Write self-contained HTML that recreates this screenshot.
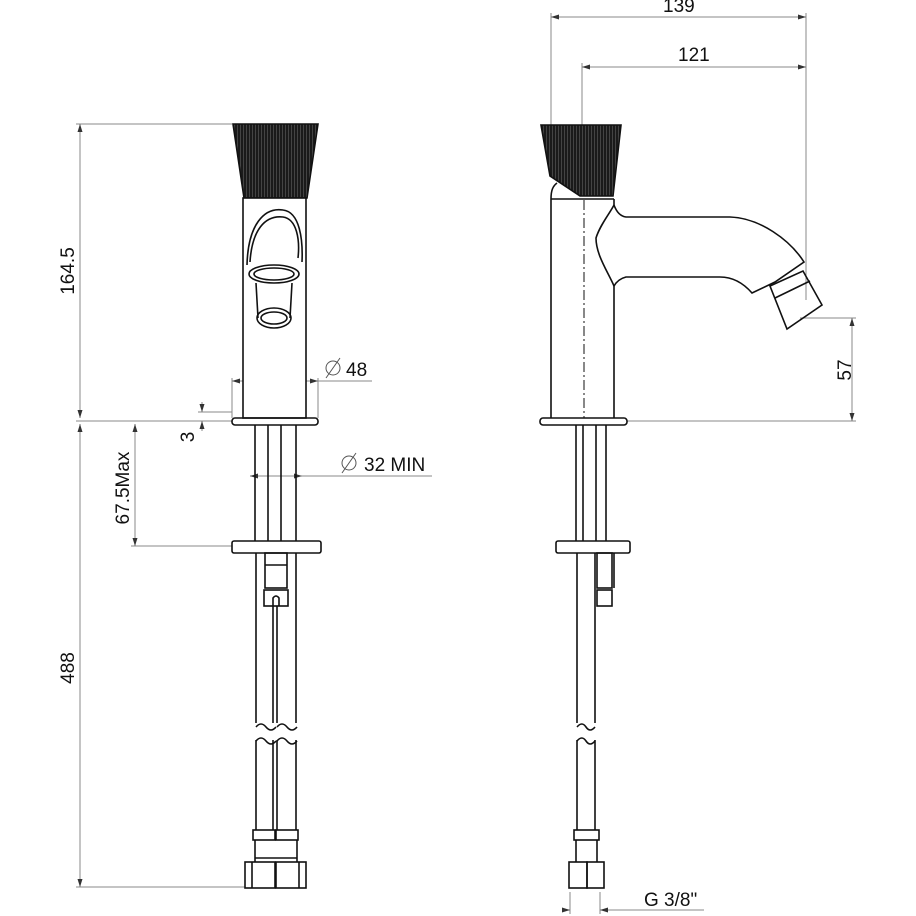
<!DOCTYPE html>
<html><head><meta charset="utf-8"><style>
html,body{margin:0;padding:0;background:#fff}
svg{display:block}
text{font-family:"Liberation Sans",sans-serif;fill:#111}
</style></head><body>
<svg width="916" height="916" viewBox="0 0 916 916" xmlns="http://www.w3.org/2000/svg">
<defs>
<pattern id="rib" width="3" height="10" patternUnits="userSpaceOnUse"><rect width="3" height="10" fill="#1a1a1a"/><rect width="0.7" height="10" fill="#555"/></pattern>
<marker id="ar" markerWidth="8" markerHeight="6" refX="8" refY="3" orient="auto-start-reverse" markerUnits="userSpaceOnUse"><path d="M0,0.5 L8,3 L0,5.5 Z" fill="#333"/></marker>
</defs>
<g stroke="#888" stroke-width="1" fill="none">
<line x1="76" y1="124" x2="232" y2="124"/>
<line x1="76" y1="421" x2="232" y2="421"/>
<line x1="76" y1="887" x2="245" y2="887"/>
<line x1="80" y1="124" x2="80" y2="418" marker-start="url(#ar)" marker-end="url(#ar)"/>
<line x1="80" y1="424" x2="80" y2="887" marker-start="url(#ar)" marker-end="url(#ar)"/>
<line x1="131" y1="546" x2="232" y2="546"/>
<line x1="135" y1="424" x2="135" y2="546" marker-start="url(#ar)" marker-end="url(#ar)"/>
<line x1="198" y1="412" x2="232" y2="412"/>
<line x1="202" y1="402" x2="202" y2="412" marker-end="url(#ar)"/>
<line x1="202" y1="431" x2="202" y2="421" marker-end="url(#ar)"/>
<line x1="232" y1="378" x2="232" y2="418"/>
<line x1="318" y1="378" x2="318" y2="418"/>
<line x1="232" y1="381" x2="318" y2="381" marker-start="url(#ar)" marker-end="url(#ar)"/>
<line x1="318" y1="381" x2="372" y2="381"/>
<line x1="250" y1="476" x2="302" y2="476" marker-start="url(#ar)" marker-end="url(#ar)"/>
<line x1="302" y1="476" x2="432" y2="476"/>
<line x1="551" y1="13" x2="551" y2="125"/>
<line x1="582" y1="63" x2="582" y2="125"/>
<line x1="806" y1="13" x2="806" y2="300"/>
<line x1="551" y1="17" x2="806" y2="17" marker-start="url(#ar)" marker-end="url(#ar)"/>
<line x1="582" y1="67" x2="806" y2="67" marker-start="url(#ar)" marker-end="url(#ar)"/>
<line x1="800" y1="318" x2="856" y2="318"/>
<line x1="627" y1="421" x2="856" y2="421"/>
<line x1="852" y1="318" x2="852" y2="421" marker-start="url(#ar)" marker-end="url(#ar)"/>
<line x1="570" y1="892" x2="570" y2="914"/>
<line x1="600" y1="892" x2="600" y2="914"/>
<line x1="563" y1="910" x2="570" y2="910" marker-end="url(#ar)"/>
<line x1="610" y1="910" x2="600" y2="910" marker-end="url(#ar)"/>
<line x1="610" y1="910" x2="704" y2="910"/>
</g>
<g fill="none" stroke="#555" stroke-width="1">
<circle cx="333" cy="368" r="7"/><line x1="326" y1="378" x2="340" y2="358"/>
<circle cx="349" cy="463" r="7"/><line x1="342" y1="473" x2="356" y2="453"/>
</g>
<text x="346" y="376" font-size="19">48</text>
<text x="364" y="471" font-size="19">32 MIN</text>
<text x="644" y="906" font-size="19">G 3/8"</text>
<text x="663" y="12" font-size="19">139</text>
<text x="678" y="61" font-size="19">121</text>
<text font-size="19" transform="translate(74,271) rotate(-90)" text-anchor="middle">164.5</text>
<text font-size="19" transform="translate(74,668) rotate(-90)" text-anchor="middle">488</text>
<text font-size="19" transform="translate(129,488) rotate(-90)" text-anchor="middle">67.5Max</text>
<text font-size="19" transform="translate(194,437) rotate(-90)" text-anchor="middle">3</text>
<text font-size="19" transform="translate(851,370) rotate(-90)" text-anchor="middle">57</text>

<g stroke="#111" stroke-width="1.6" fill="none">
<path d="M233,124 L318,124 L307,198 L244,198 Z" fill="url(#rib)"/>
<rect x="243" y="198" width="63" height="220" fill="#fff"/>
<path d="M247,265 C248,225 264,207 283,210 C300,212 303,240 302,262"/>
<path d="M250,262 C252,230 265,215 283,217 C297,219 300,240 298,258"/>
<ellipse cx="274" cy="274" rx="25" ry="9"/>
<ellipse cx="274" cy="274" rx="20" ry="6"/>
<path d="M256,283 L258,318 M292,283 L290,318"/>
<ellipse cx="274" cy="318" rx="17" ry="10"/>
<ellipse cx="274" cy="318" rx="13" ry="6"/>
<rect x="232" y="418" width="86" height="7" rx="3"/>
<line x1="255" y1="425" x2="255" y2="541"/><line x1="268" y1="425" x2="268" y2="541"/>
<line x1="281" y1="425" x2="281" y2="541"/><line x1="296" y1="425" x2="296" y2="541"/>
<rect x="232" y="541" width="89" height="12" rx="2"/>
<line x1="256" y1="553" x2="256" y2="723"/><line x1="296" y1="553" x2="296" y2="723"/>
<rect x="265" y="553" width="22" height="35"/><line x1="265" y1="565" x2="287" y2="565"/>
<rect x="264" y="590" width="24" height="16"/>
<path d="M273,606 L273,598 Q276,594 279,598 L279,606"/>
<line x1="273" y1="606" x2="273" y2="723"/><line x1="277" y1="606" x2="277" y2="723"/>
<path d="M256,727 q5,-6 10,0 t10,0 M277,727 q5,-6 10,0 t10,0"/>
<path d="M256,741 q5,-6 10,0 t10,0 M277,741 q5,-6 10,0 t10,0"/>
<line x1="256" y1="740" x2="256" y2="830"/><line x1="296" y1="740" x2="296" y2="830"/>
<line x1="273" y1="740" x2="273" y2="830"/><line x1="277" y1="740" x2="277" y2="830"/>
<rect x="253" y="830" width="22" height="10"/><rect x="276" y="830" width="22" height="10"/>
<line x1="255" y1="840" x2="255" y2="862"/><line x1="297" y1="840" x2="297" y2="862"/>
<line x1="255" y1="858" x2="297" y2="858"/>
<rect x="245" y="862" width="30" height="26"/><rect x="276" y="862" width="30" height="26"/>
<line x1="252" y1="862" x2="252" y2="888"/><line x1="299" y1="862" x2="299" y2="888"/>

<path d="M541,125 L621,125 L613,196 L580,196 L550,176 Z" fill="url(#rib)"/>
<path d="M551,199 C551,190 553,186 557,183"/>
<path d="M551,199 L551,418 M614,199 L614,205 M614,286 L614,418 M551,199 L614,199"/>
<path d="M614,205 C610,213 600,225 596,238 C596,255 608,272 614,286"/>
<path d="M614,205 Q618,216 626,217 L730,217 C760,218 790,240 804,262 L775,282 L752,293 C745,285 735,277 720,277 L626,277 Q618,279 614,286"/>
<path d="M770,286 L803,271 L822,305 L787,329 Z"/>
<line x1="775" y1="298" x2="810" y2="281"/>
<line x1="584" y1="200" x2="584" y2="418" stroke-dasharray="10,3,2,3" stroke-width="1"/>
<rect x="540" y="418" width="87" height="7" rx="3"/>
<line x1="576" y1="425" x2="576" y2="541"/><line x1="583" y1="425" x2="583" y2="541"/>
<line x1="596" y1="425" x2="596" y2="541"/><line x1="606" y1="425" x2="606" y2="541"/>
<rect x="556" y="541" width="74" height="12" rx="2"/>
<line x1="577" y1="553" x2="577" y2="723"/><line x1="595" y1="553" x2="595" y2="723"/>
<rect x="597" y="553" width="15" height="35"/><rect x="597" y="590" width="15" height="16"/>
<line x1="614" y1="553" x2="614" y2="588"/>
<path d="M577,727 q5,-6 9,0 t9,0 M577,741 q5,-6 9,0 t9,0"/>
<line x1="577" y1="740" x2="577" y2="830"/><line x1="595" y1="740" x2="595" y2="830"/>
<rect x="574" y="830" width="25" height="10"/>
<line x1="576" y1="840" x2="576" y2="862"/><line x1="597" y1="840" x2="597" y2="862"/>
<rect x="569" y="862" width="18" height="26"/><rect x="587" y="862" width="17" height="26"/>
</g>
</svg>
</body></html>
